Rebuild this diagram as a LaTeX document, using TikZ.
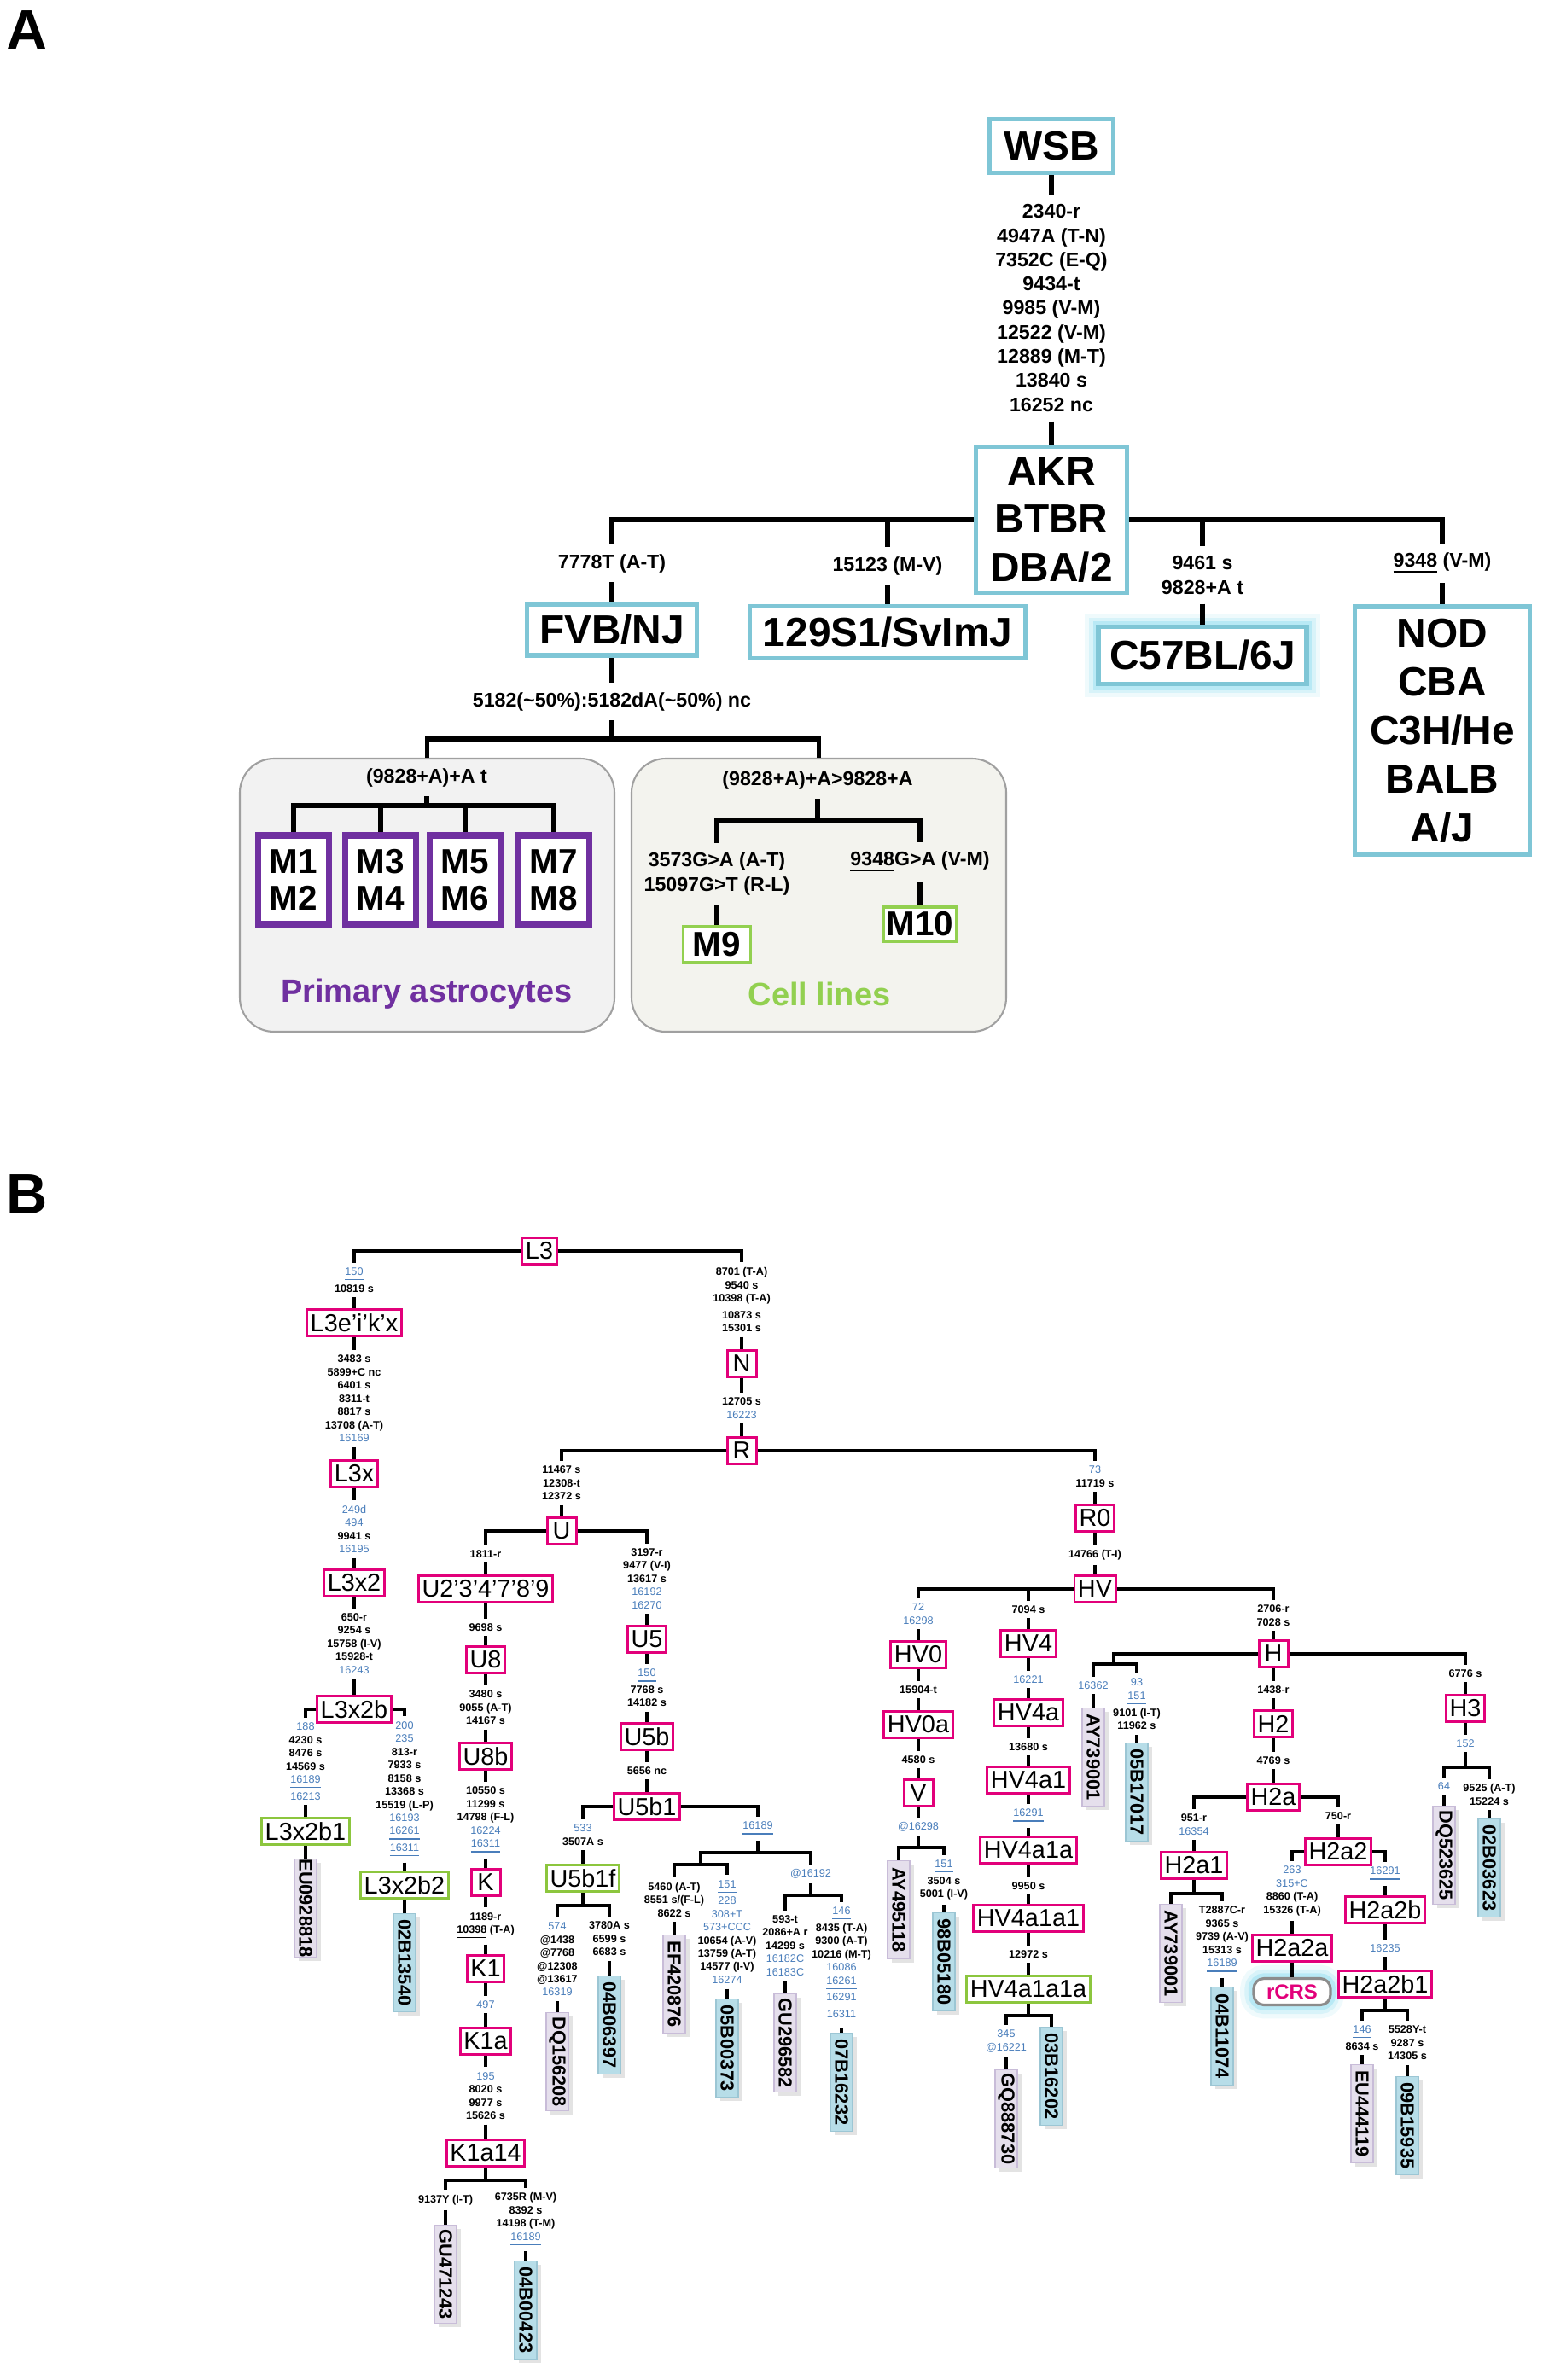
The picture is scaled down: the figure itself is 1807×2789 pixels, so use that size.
\documentclass[tikz,border=0pt]{standalone}
\usepackage{fontspec}
\setmainfont{Liberation Sans}
\usepackage{graphicx}
\usetikzlibrary{shadows}
\definecolor{mag}{HTML}{E2007A}
\definecolor{grn}{HTML}{8CC63E}
\definecolor{tblue}{HTML}{4A7EBB}
\definecolor{accp}{HTML}{E5DFEC}
\definecolor{accpd}{HTML}{C8BCD8}
\definecolor{accb}{HTML}{B7DDE8}
\definecolor{accbd}{HTML}{9CC6D4}
\definecolor{acol}{HTML}{7FC6D6}
\definecolor{gcol}{HTML}{7FD8EE}
\definecolor{pur}{HTML}{7030A0}
\definecolor{cgrn}{HTML}{92D050}
\definecolor{pafill}{HTML}{F2F2F2}
\definecolor{clfill}{HTML}{F3F3EE}
\definecolor{pnl}{HTML}{A0A0A0}
\newcommand{\mbl}[1]{{\mdseries\color{tblue}#1}}
\newcommand{\mbu}[1]{{\mdseries\color{tblue}\underline{#1}}}
\begin{document}
\begin{tikzpicture}[x=0.1mm,y=-0.1mm,
 hb/.style={draw=mag, line width=0.85pt, fill=white, font=\fontsize{8.2}{9}\selectfont, inner xsep=0.4mm, inner ysep=0pt, minimum height=3.05mm, minimum width=3.4mm},
 gb/.style={hb, draw=grn},
 mB/.style={font=\fontsize{3.6}{4.4}\selectfont\bfseries, align=center, inner xsep=0.3mm, inner ysep=1.5pt},
 accP/.style={draw=accpd, fill=accp, line width=0.5pt, minimum width=2.6mm, minimum height=11.5mm, inner sep=0pt, font=\fontsize{6.2}{7}\selectfont\bfseries, drop shadow={shadow xshift=0.45mm, shadow yshift=-0.45mm, opacity=0.22}},
 accB/.style={accP, draw=accbd, fill=accb},
 lB/.style={line width=0.95pt},
 lA/.style={line width=1.45pt},
 abox/.style={draw=acol, line width=1.5pt, fill=white, font=\fontsize{13.6}{16.2}\selectfont\bfseries, align=center, inner sep=0pt},
 mA/.style={font=\fontsize{6.6}{8.05}\selectfont\bfseries, align=center, inner xsep=0pt, inner ysep=3pt},
 glow/.style={preaction={draw=gcol, line width=9pt, draw opacity=0.12}, preaction={draw=gcol, line width=6pt, draw opacity=0.2}, preaction={draw=gcol, line width=3.5pt, draw opacity=0.35}},
 mbox/.style={draw=pur, line width=2pt, fill=white, font=\fontsize{11.5}{12.2}\selectfont\bfseries, align=center, minimum width=8.3mm, minimum height=10.4mm, inner sep=0pt},
 cbox/.style={draw=cgrn, line width=1.1pt, fill=white, font=\fontsize{11.5}{12.2}\selectfont\bfseries, inner sep=0pt},
 panel/.style={draw=pnl, line width=0.6pt, rounded corners=4mm, minimum width=43.9mm, minimum height=32mm},
 rc/.style={draw=black!45, line width=0.9pt, rounded corners=1.2mm, fill=white, minimum width=9mm, minimum height=3.1mm, inner sep=0pt, font=\fontsize{6.8}{8}\selectfont\bfseries, text=mag, glow}
]
\path[use as bounding box, fill=white] (0,0) rectangle (1807,2789);

%% ---------------- Panel A ----------------
\node[font=\fontsize{19}{22}\selectfont\bfseries] (labA) at (32,36) {A};
\node[abox, minimum width=14.5mm, minimum height=6.3mm] (WSB) at (1232,171) {WSB};
\node[mA] (mW) at (1232,361) {2340-r\\4947A (T-N)\\7352C (E-Q)\\9434-t\\9985 (V-M)\\12522 (V-M)\\12889 (M-T)\\13840 s\\16252 nc};
\node[abox, minimum width=17.7mm, minimum height=17.1mm] (AKR) at (1232,609) {AKR\\BTBR\\DBA/2};
\node[mA] (m7778) at (717,660) {7778T (A-T)};
\node[abox, minimum width=19.9mm, minimum height=6mm] (FVB) at (717,738) {FVB/NJ};
\node[mA] (m15123) at (1040,663) {15123 (M-V)};
\node[abox, minimum width=32.3mm, minimum height=6.1mm] (S129) at (1040,741) {129S1/SvImJ};
\node[mA] (m9461) at (1409,674) {9461 s\\9828+A t};
\node[abox, glow, minimum width=24.4mm, minimum height=6.7mm] (C57) at (1409,768) {C57BL/6J};
\node[mA] (m9348) at (1690,660) {\underline{9348} (V-M)};
\node[abox, minimum width=20.5mm, minimum height=29mm] (NOD) at (1690,856) {NOD\\CBA\\C3H/He\\BALB\\A/J};
\node[mA] (m5182) at (717,822) {5182(\textasciitilde50\%):5182dA(\textasciitilde50\%) nc};
\coordinate (jF) at (717,866);
\node[panel, fill=pafill] (PA) at (500.5,1049) {};
\node[panel, fill=clfill] (CL) at (959.5,1049) {};
\node[mA] (m9828a) at (500,911) {(9828+A)+A t};
\coordinate (jP) at (500,944);
\node[mbox] (M12) at (344,1031) {M1\\M2};
\node[mbox] (M34) at (446,1031) {M3\\M4};
\node[mbox] (M56) at (545,1031) {M5\\M6};
\node[mbox] (M78) at (649,1031) {M7\\M8};
\node[font=\fontsize{10.8}{12}\selectfont\bfseries, text=pur] (tPA) at (500,1165) {Primary astrocytes};
\node[mA] (m9828b) at (958,914) {(9828+A)+A>9828+A};
\coordinate (jC) at (958,962);
\node[mA] (m3573) at (840,1024) {3573G>A (A-T)\\15097G>T (R-L)};
\node[mA] (m9348b) at (1078,1010) {\underline{9348}G>A (V-M)};
\node[cbox, minimum width=7.9mm, minimum height=4.2mm] (M9) at (840,1107) {M9};
\node[cbox, minimum width=8.6mm, minimum height=4.0mm] (M10) at (1078,1083) {M10};
\node[font=\fontsize{10.8}{12}\selectfont\bfseries, text=cgrn] (tCL) at (960,1165) {Cell lines};

\draw[lA] (WSB) -- (mW) -- (AKR);
\draw[lA] (AKR) -| (m7778); \draw[lA] (m7778) -- (FVB);
\draw[lA] (AKR) -| (m15123); \draw[lA] (m15123) -- (S129);
\draw[lA] (AKR) -| (m9461); \draw[lA] (m9461) -- (C57);
\draw[lA] (AKR) -| (m9348); \draw[lA] (m9348) -- (NOD);
\draw[lA] (FVB) -- (m5182) -- (jF);
\draw[lA] (jF) -| (PA); \draw[lA] (jF) -| (CL);
\draw[lA] (m9828a) -- (jP);
\draw[lA] (jP) -| (M12); \draw[lA] (jP) -| (M34); \draw[lA] (jP) -| (M56); \draw[lA] (jP) -| (M78);
\draw[lA] (m9828b) -- (jC);
\draw[lA] (jC) -| (m3573); \draw[lA] (m3573) -- (M9);
\draw[lA] (jC) -| (m9348b); \draw[lA] (m9348b) -- (M10);

%% ---------------- Panel B ----------------
\node[font=\fontsize{19}{22}\selectfont\bfseries] (labB) at (32,1400) {B};
% haplogroup boxes
\node[hb] (L3) at (632,1466) {L3};
\node[hb] (L3e) at (415,1550) {L3e’i’k’x};
\node[hb] (L3x) at (415,1727) {L3x};
\node[hb] (L3x2) at (415,1855) {L3x2};
\node[hb] (L3x2b) at (415,2003) {L3x2b};
\node[gb] (L3x2b1) at (358,2146) {L3x2b1};
\node[gb] (L3x2b2) at (474,2209) {L3x2b2};
\node[hb] (N) at (869,1598) {N};
\node[hb] (R) at (869,1700) {R};
\node[hb] (U) at (658,1794) {U};
\node[hb] (U2) at (569,1862) {U2’3’4’7’8’9};
\node[hb] (U8) at (569,1945) {U8};
\node[hb] (U8b) at (569,2058) {U8b};
\node[hb] (K) at (569,2206) {K};
\node[hb] (K1) at (569,2307) {K1};
\node[hb] (K1a) at (569,2392) {K1a};
\node[hb] (K1a14) at (569,2523) {K1a14};
\node[hb] (U5) at (758,1921) {U5};
\node[hb] (U5b) at (758,2035) {U5b};
\node[hb] (U5b1) at (758,2117) {U5b1};
\node[gb] (U5b1f) at (683,2201) {U5b1f};
\node[hb] (R0) at (1283,1779) {R0};
\node[hb] (HV) at (1283,1862) {HV};
\node[hb] (HV0) at (1076,1939) {HV0};
\node[hb] (HV0a) at (1076,2021) {HV0a};
\node[hb] (V) at (1076,2101) {V};
\node[hb] (HV4) at (1205,1926) {HV4};
\node[hb] (HV4a) at (1205,2007) {HV4a};
\node[hb] (HV4a1) at (1205,2086) {HV4a1};
\node[hb] (HV4a1a) at (1205,2168) {HV4a1a};
\node[hb] (HV4a1a1) at (1205,2248) {HV4a1a1};
\node[gb] (HV4a1a1a) at (1205,2331) {HV4a1a1a};
\node[hb] (H) at (1492,1938) {H};
\node[hb] (H2) at (1492,2020) {H2};
\node[hb] (H2a) at (1492,2106) {H2a};
\node[hb] (H2a1) at (1399,2186) {H2a1};
\node[hb] (H2a2) at (1568,2170) {H2a2};
\node[hb] (H2a2a) at (1514,2283) {H2a2a};
\node[rc] (rCRS) at (1514,2334) {rCRS};
\node[hb] (H2a2b) at (1623,2238) {H2a2b};
\node[hb] (H2a2b1) at (1623,2325) {H2a2b1};
\node[hb] (H3) at (1717,2002) {H3};

% mutation labels
\node[mB] (mL3a) at (415,1500) {\mbu{150}\\10819 s};
\node[mB] (mL3b) at (869,1523) {8701 (T-A)\\9540 s\\\underline{10398} (T-A)\\10873 s\\15301 s};
\node[mB] (mL3e) at (415,1639) {3483 s\\5899+C nc\\6401 s\\8311-t\\8817 s\\13708 (A-T)\\\mbl{16169}};
\node[mB] (mL3x) at (415,1792) {\mbl{249d}\\\mbl{494}\\9941 s\\\mbl{16195}};
\node[mB] (mL3x2) at (415,1926) {650-r\\9254 s\\15758 (I-V)\\15928-t\\\mbl{16243}};
\node[mB] (mL3x2bL) at (358,2064) {\mbl{188}\\4230 s\\8476 s\\14569 s\\\mbu{16189}\\\mbl{16213}};
\node[mB] (mL3x2bR) at (474,2097) {\mbl{200}\\\mbl{235}\\813-r\\7933 s\\8158 s\\13368 s\\15519 (L-P)\\\mbl{16193}\\\mbu{16261}\\\mbu{16311}};
\node[mB] (mN) at (869,1650) {12705 s\\\mbl{16223}};
\node[mB] (mRL) at (658,1738) {11467 s\\12308-t\\12372 s};
\node[mB] (mUL) at (569,1821) {1811-r};
\node[mB] (mU2) at (569,1907) {9698 s};
\node[mB] (mU8) at (569,2001) {3480 s\\9055 (A-T)\\14167 s};
\node[mB] (mU8b) at (569,2133) {10550 s\\11299 s\\14798 (F-L)\\\mbl{16224}\\\mbu{16311}};
\node[mB] (mK) at (569,2257) {1189-r\\\underline{10398} (T-A)};
\node[mB] (mK1) at (569,2349) {\mbl{497}};
\node[mB] (mK1a) at (569,2456) {\mbl{195}\\8020 s\\9977 s\\15626 s};
\node[mB] (mK14L) at (522,2578) {9137Y (I-T)};
\node[mB] (mK14R) at (616,2601) {6735R (M-V)\\8392 s\\14198 (T-M)\\\mbu{16189}};
\node[mB] (mUR) at (758,1850) {3197-r\\9477 (V-I)\\13617 s\\\mbl{16192}\\\mbl{16270}};
\node[mB] (mU5) at (758,1978) {\mbu{150}\\7768 s\\14182 s};
\node[mB] (mU5b) at (758,2075) {5656 nc};
\node[mB] (mU5b1L) at (683,2150) {\mbl{533}\\3507A s};
\node[mB] (mU5fL) at (653,2296) {\mbl{574}\\@1438\\@7768\\@12308\\@13617\\\mbl{16319}};
\node[mB] (mU5fR) at (714,2272) {3780A s\\6599 s\\6683 s};
\node[mB] (mU5b1R) at (888,2143) {\mbu{16189}};
\node[mB] (m5460) at (790,2226) {5460 (A-T)\\8551 s/(F-L)\\8622 s};
\node[mB] (m151) at (852,2264) {\mbu{151}\\\mbl{228}\\\mbl{308+T}\\\mbl{573+CCC}\\10654 (A-V)\\13759 (A-T)\\14577 (I-V)\\\mbl{16274}};
\node[mB] (m16192) at (950,2196) {\mbl{@16192}};
\node[mB] (m593) at (920,2280) {593-t\\2086+A r\\14299 s\\\mbl{16182C}\\\mbl{16183C}};
\node[mB] (m146) at (986,2303) {\mbu{146}\\8435 (T-A)\\9300 (A-T)\\10216 (M-T)\\\mbl{16086}\\\mbu{16261}\\\mbu{16291}\\\mbu{16311}};
\node[mB] (mRR) at (1283,1730) {\mbl{73}\\11719 s};
\node[mB] (mR0) at (1283,1822) {14766 (T-I)};
\node[mB] (mHV0) at (1076,1891) {\mbl{72}\\\mbl{16298}};
\node[mB] (mHV0a) at (1076,1980) {15904-t};
\node[mB] (mV) at (1076,2062) {4580 s};
\node[mB] (mVd) at (1076,2141) {\mbl{@16298}};
\node[mB] (mVR) at (1106,2203) {\mbu{151}\\3504 s\\5001 (I-V)};
\node[mB] (mHV4) at (1205,1886) {7094 s};
\node[mB] (mHV4a) at (1205,1968) {\mbl{16221}};
\node[mB] (mHV4a1) at (1205,2047) {13680 s};
\node[mB] (mHV4a1a) at (1205,2128) {\mbu{16291}};
\node[mB] (mHV4a1a1) at (1205,2210) {9950 s};
\node[mB] (mHV4a1a1a) at (1205,2290) {12972 s};
\node[mB] (m345) at (1179,2392) {\mbl{345}\\\mbl{@16221}};
\node[mB] (mH) at (1492,1893) {2706-r\\7028 s};
\node[mB] (m16362) at (1281,1975) {\mbl{16362}};
\node[mB] (m93) at (1332,1997) {\mbl{93}\\\mbu{151}\\9101 (I-T)\\11962 s};
\node[mB] (mH2) at (1492,1980) {1438-r};
\node[mB] (mH2a) at (1492,2063) {4769 s};
\node[mB] (m951) at (1399,2138) {951-r\\\mbl{16354}};
\node[mB] (mT2887) at (1432,2273) {T2887C-r\\9365 s\\9739 (A-V)\\15313 s\\\mbu{16189}};
\node[mB] (m750) at (1568,2128) {750-r};
\node[mB] (m263) at (1514,2216) {\mbl{263}\\\mbl{315+C}\\8860 (T-A)\\15326 (T-A)};
\node[mB] (m16291) at (1623,2196) {\mbu{16291}};
\node[mB] (m16235) at (1623,2283) {\mbl{16235}};
\node[mB] (m146b) at (1596,2388) {\mbu{146}\\8634 s};
\node[mB] (m5528) at (1649,2394) {5528Y-t\\9287 s\\14305 s};
\node[mB] (m6776) at (1717,1961) {6776 s};
\node[mB] (m152) at (1717,2043) {\mbl{152}};
\node[mB] (m64) at (1692,2093) {\mbl{64}};
\node[mB] (m9525) at (1745,2103) {9525 (A-T)\\15224 s};

% accession boxes
\node[accP] (aEU0928818) at (358,2236) {\rotatebox{-90}{EU0928818}};
\node[accB] (a02B13540) at (474,2300) {\rotatebox{-90}{02B13540}};
\node[accP] (aDQ156208) at (653,2416) {\rotatebox{-90}{DQ156208}};
\node[accB] (a04B06397) at (714,2373) {\rotatebox{-90}{04B06397}};
\node[accP] (aGU471243) at (522,2665) {\rotatebox{-90}{GU471243}};
\node[accB] (a04B00423) at (616,2707) {\rotatebox{-90}{04B00423}};
\node[accP] (aEF420876) at (790,2325) {\rotatebox{-90}{EF420876}};
\node[accB] (a05B00373) at (852,2400) {\rotatebox{-90}{05B00373}};
\node[accP] (aGU296582) at (920,2394) {\rotatebox{-90}{GU296582}};
\node[accB] (a07B16232) at (986,2440) {\rotatebox{-90}{07B16232}};
\node[accP] (aAY495118) at (1053,2238) {\rotatebox{-90}{AY495118}};
\node[accB] (a98B05180) at (1106,2299) {\rotatebox{-90}{98B05180}};
\node[accP] (aGQ888730) at (1179,2483) {\rotatebox{-90}{GQ888730}};
\node[accB] (a03B16202) at (1232,2433) {\rotatebox{-90}{03B16202}};
\node[accP] (aAY739001a) at (1281,2059) {\rotatebox{-90}{AY739001}};
\node[accB] (a05B17017) at (1332,2100) {\rotatebox{-90}{05B17017}};
\node[accP] (aAY739001b) at (1372,2289) {\rotatebox{-90}{AY739001}};
\node[accB] (a04B11074) at (1432,2386) {\rotatebox{-90}{04B11074}};
\node[accP] (aEU444119) at (1596,2477) {\rotatebox{-90}{EU444119}};
\node[accB] (a09B15935) at (1649,2491) {\rotatebox{-90}{09B15935}};
\node[accP] (aDQ523625) at (1692,2174) {\rotatebox{-90}{DQ523625}};
\node[accB] (a02B03623) at (1745,2189) {\rotatebox{-90}{02B03623}};

% junctions
\coordinate (jK14) at (569,2555);
\coordinate (jU5f) at (683,2233);
\coordinate (j1) at (888,2171);
\coordinate (j2) at (821,2185);
\coordinate (j3) at (950,2221);
\coordinate (jV) at (1076,2165);
\coordinate (jHV4) at (1205,2362);
\coordinate (jH) at (1305,1950);
\coordinate (jH2a1) at (1399,2219);
\coordinate (jH2b1) at (1623,2356);
\coordinate (jH3) at (1717,2071);

% connectors
\draw[lB] (L3) -| (mL3a);
\draw[lB] (mL3a) -- (L3e) -- (mL3e) -- (L3x) -- (mL3x) -- (L3x2) -- (mL3x2) -- (L3x2b);
\draw[lB] (L3x2b) -| (mL3x2bL); \draw[lB] (mL3x2bL) -- (L3x2b1) -- (aEU0928818);
\draw[lB] (L3x2b) -| (mL3x2bR); \draw[lB] (mL3x2bR) -- (L3x2b2) -- (a02B13540);
\draw[lB] (L3) -| (mL3b); \draw[lB] (mL3b) -- (N) -- (mN) -- (R);
\draw[lB] (R) -| (mRL); \draw[lB] (mRL) -- (U);
\draw[lB] (U) -| (mUL);
\draw[lB] (mUL) -- (U2) -- (mU2) -- (U8) -- (mU8) -- (U8b) -- (mU8b) -- (K) -- (mK) -- (K1) -- (mK1) -- (K1a) -- (mK1a) -- (K1a14) -- (jK14);
\draw[lB] (jK14) -| (mK14L); \draw[lB] (mK14L) -- (aGU471243);
\draw[lB] (jK14) -| (mK14R); \draw[lB] (mK14R) -- (a04B00423);
\draw[lB] (U) -| (mUR); \draw[lB] (mUR) -- (U5) -- (mU5) -- (U5b) -- (mU5b) -- (U5b1);
\draw[lB] (U5b1) -| (mU5b1L); \draw[lB] (mU5b1L) -- (U5b1f) -- (jU5f);
\draw[lB] (jU5f) -| (mU5fL); \draw[lB] (mU5fL) -- (aDQ156208);
\draw[lB] (jU5f) -| (mU5fR); \draw[lB] (mU5fR) -- (a04B06397);
\draw[lB] (U5b1) -| (mU5b1R); \draw[lB] (mU5b1R) -- (j1);
\draw[lB] (j1) -| (j2);
\draw[lB] (j2) -| (m5460); \draw[lB] (m5460) -- (aEF420876);
\draw[lB] (j2) -| (m151); \draw[lB] (m151) -- (a05B00373);
\draw[lB] (j1) -| (m16192); \draw[lB] (m16192) -- (j3);
\draw[lB] (j3) -| (m593); \draw[lB] (m593) -- (aGU296582);
\draw[lB] (j3) -| (m146); \draw[lB] (m146) -- (a07B16232);
\draw[lB] (R) -| (mRR); \draw[lB] (mRR) -- (R0) -- (mR0) -- (HV);
\draw[lB] (HV) -| (mHV0);
\draw[lB] (mHV0) -- (HV0) -- (mHV0a) -- (HV0a) -- (mV) -- (V) -- (mVd) -- (jV);
\draw[lB] (jV) -| (aAY495118);
\draw[lB] (jV) -| (mVR); \draw[lB] (mVR) -- (a98B05180);
\draw[lB] (mHV4) -- (mHV4 |- HV);
\draw[lB] (mHV4) -- (HV4) -- (mHV4a) -- (HV4a) -- (mHV4a1) -- (HV4a1) -- (mHV4a1a) -- (HV4a1a) -- (mHV4a1a1) -- (HV4a1a1) -- (mHV4a1a1a) -- (HV4a1a1a) -- (jHV4);
\draw[lB] (jHV4) -| (m345); \draw[lB] (m345) -- (aGQ888730);
\draw[lB] (jHV4) -| (a03B16202);
\draw[lB] (HV) -| (mH); \draw[lB] (mH) -- (H);
\draw[lB] (H) -| (jH);
\draw[lB] (jH) -| (m16362); \draw[lB] (m16362) -- (aAY739001a);
\draw[lB] (jH) -| (m93); \draw[lB] (m93) -- (a05B17017);
\draw[lB] (H) -- (mH2) -- (H2) -- (mH2a) -- (H2a);
\draw[lB] (H2a) -| (m951); \draw[lB] (m951) -- (H2a1) -- (jH2a1);
\draw[lB] (jH2a1) -| (aAY739001b);
\draw[lB] (jH2a1) -| (mT2887); \draw[lB] (mT2887) -- (a04B11074);
\draw[lB] (H2a) -| (m750); \draw[lB] (m750) -- (H2a2);
\draw[lB] (H2a2) -| (m263); \draw[lB] (m263) -- (H2a2a) -- (rCRS);
\draw[lB] (H2a2) -| (m16291); \draw[lB] (m16291) -- (H2a2b) -- (m16235) -- (H2a2b1) -- (jH2b1);
\draw[lB] (jH2b1) -| (m146b); \draw[lB] (m146b) -- (aEU444119);
\draw[lB] (jH2b1) -| (m5528); \draw[lB] (m5528) -- (a09B15935);
\draw[lB] (H) -| (m6776); \draw[lB] (m6776) -- (H3) -- (m152) -- (jH3);
\draw[lB] (jH3) -| (m64); \draw[lB] (m64) -- (aDQ523625);
\draw[lB] (jH3) -| (m9525); \draw[lB] (m9525) -- (a02B03623);
\end{tikzpicture}
\end{document}
